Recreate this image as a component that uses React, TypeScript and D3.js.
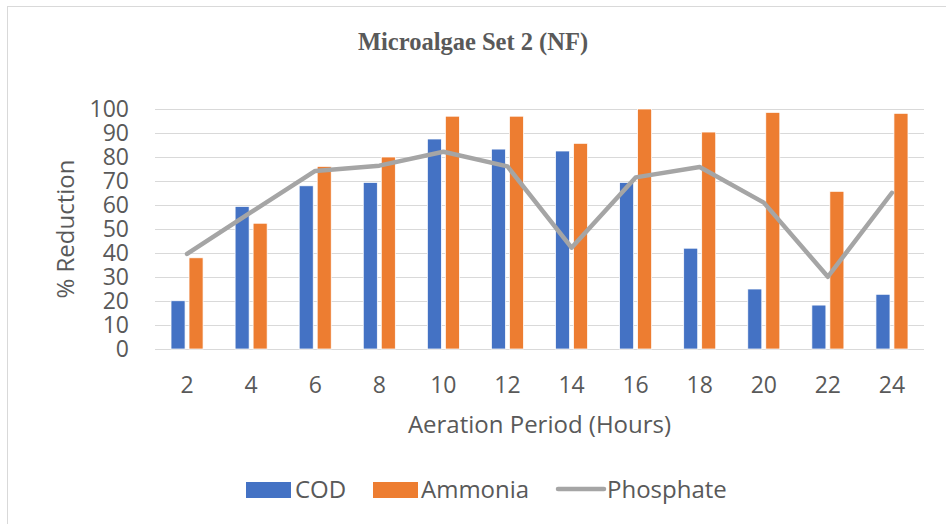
import { useEffect, useRef } from "react";
import * as d3 from "d3";

const HOURS = ["2", "4", "6", "8", "10", "12", "14", "16", "18", "20", "22", "24"];
const COD = [20.1, 59.4, 68, 69.4, 87.5, 83.3, 82.5, 69.4, 42, 25, 18.3, 22.8];
const AMMONIA = [38, 52.4, 76.1, 80, 97, 97, 85.7, 100, 90.4, 98.6, 65.7, 98.2];
const PHOSPHATE = [39.6, 57, 74.2, 76.4, 82.2, 76.1, 42.2, 71.5, 75.8, 61, 30.1, 65.1];
const Y_TICKS = [0, 10, 20, 30, 40, 50, 60, 70, 80, 90, 100];

const W = 946;
const H = 524;
const FONT = "'Open Sans', 'Liberation Sans', sans-serif";
const TEXT = "#595959";
const BLUE = "#4472C4";
const ORANGE = "#ED7D31";
const GRAY = "#A5A5A5";

export default function App() {
  const svgRef = useRef<SVGSVGElement>(null);

  useEffect(() => {
    if (!svgRef.current) return;
    const svg = d3.select(svgRef.current);
    svg.selectAll("*").remove();

    const plot = { left: 155, right: 924, top: 109, bottom: 349 };

    // chart frame
    svg.append("rect")
      .attr("x", 7.5).attr("y", 6.5)
      .attr("width", W).attr("height", H)
      .attr("fill", "#fff").attr("stroke", "#D9D9D9");

    svg.append("text")
      .attr("x", 473).attr("y", 50)
      .attr("text-anchor", "middle")
      .attr("font-family", "'Liberation Serif', 'Times New Roman', serif")
      .attr("font-weight", "bold")
      .attr("font-size", 24.5)
      .attr("fill", TEXT)
      .text("Microalgae Set 2 (NF)");

    const x = d3.scaleBand<string>().domain(HOURS).range([plot.left, plot.right]);
    const bw = x.bandwidth();
    const xSub = d3.scaleBand<string>()
      .domain(["COD", "Ammonia"])
      .range([bw * 0.25, bw * 0.75])
      .paddingInner(0.22);
    const y = d3.scaleLinear().domain([0, 100]).range([plot.bottom, plot.top]);

    // gridlines
    svg.append("g")
      .selectAll("line")
      .data(Y_TICKS)
      .join("line")
      .attr("x1", plot.left).attr("x2", plot.right)
      .attr("y1", (d) => Math.round(y(d)) + 0.5)
      .attr("y2", (d) => Math.round(y(d)) + 0.5)
      .attr("stroke", "#D9D9D9")
      .attr("stroke-width", 1);

    // y tick labels
    svg.append("g")
      .selectAll("text")
      .data(Y_TICKS)
      .join("text")
      .attr("x", 129)
      .attr("y", (d) => y(d) + 8)
      .attr("text-anchor", "end")
      .attr("font-family", FONT)
      .attr("font-size", 23)
      .attr("fill", TEXT)
      .text((d) => String(d));

    // bars
    const series = [
      { key: "COD", values: COD, color: BLUE },
      { key: "Ammonia", values: AMMONIA, color: ORANGE },
    ];
    series.forEach((s) => {
      svg.append("g")
        .selectAll("rect")
        .data(HOURS)
        .join("rect")
        .attr("x", (h) => (x(h) ?? 0) + (xSub(s.key) ?? 0))
        .attr("y", (_h, i) => y(s.values[i]))
        .attr("width", xSub.bandwidth())
        .attr("height", (_h, i) => y(0) - y(s.values[i]))
        .attr("fill", s.color)
        .attr("stroke", "#fff")
        .attr("stroke-width", 0.75);
    });

    // phosphate line
    const line = d3.line<number>()
      .x((_d, i) => (x(HOURS[i]) ?? 0) + bw / 2)
      .y((d) => y(d));
    svg.append("path")
      .datum(PHOSPHATE)
      .attr("d", line)
      .attr("fill", "none")
      .attr("stroke", GRAY)
      .attr("stroke-width", 4.5)
      .attr("stroke-linejoin", "round")
      .attr("stroke-linecap", "round");

    // x tick labels
    svg.append("g")
      .selectAll("text")
      .data(HOURS)
      .join("text")
      .attr("x", (h) => (x(h) ?? 0) + bw / 2)
      .attr("y", 393)
      .attr("text-anchor", "middle")
      .attr("font-family", FONT)
      .attr("font-size", 23)
      .attr("fill", TEXT)
      .text((h) => h);

    // axis titles
    svg.append("text")
      .attr("x", (plot.left + plot.right) / 2)
      .attr("y", 433)
      .attr("text-anchor", "middle")
      .attr("font-family", FONT)
      .attr("font-size", 24)
      .attr("fill", TEXT)
      .text("Aeration Period (Hours)");

    svg.append("text")
      .attr("transform", `translate(74,${(plot.top + plot.bottom) / 2}) rotate(-90)`)
      .attr("text-anchor", "middle")
      .attr("font-family", FONT)
      .attr("font-size", 24)
      .attr("fill", TEXT)
      .text("% Reduction");

    // legend
    const lg = svg.append("g").attr("font-family", FONT).attr("font-size", 24).attr("fill", TEXT);
    lg.append("rect").attr("x", 246).attr("y", 482).attr("width", 45).attr("height", 16).attr("fill", BLUE);
    lg.append("text").attr("x", 295).attr("y", 498).text("COD");
    lg.append("rect").attr("x", 373).attr("y", 482).attr("width", 45).attr("height", 16).attr("fill", ORANGE);
    lg.append("text").attr("x", 421).attr("y", 498).text("Ammonia");
    lg.append("line")
      .attr("x1", 558).attr("x2", 604).attr("y1", 489).attr("y2", 489)
      .attr("stroke", GRAY).attr("stroke-width", 4.5).attr("stroke-linecap", "round");
    lg.append("text").attr("x", 607).attr("y", 498).text("Phosphate");
  }, []);

  return (
    <svg
      ref={svgRef}
      width={W}
      height={H}
      style={{ position: "absolute", left: 0, top: 0, background: "#fff" }}
    />
  );
}
